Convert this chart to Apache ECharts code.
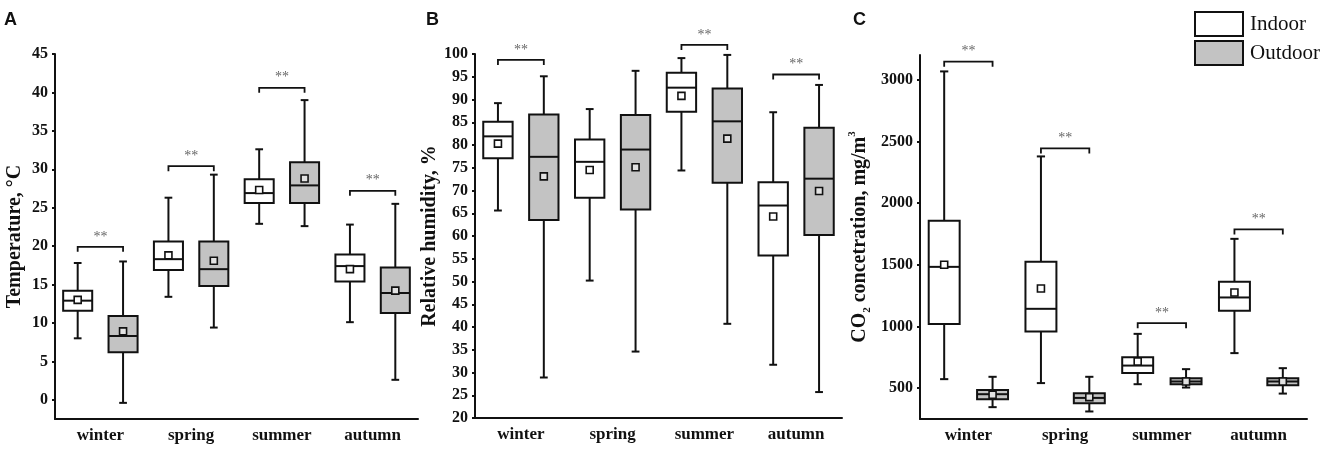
<!DOCTYPE html>
<html>
<head>
<meta charset="utf-8">
<script src="https://cdn.jsdelivr.net/npm/echarts@6/dist/echarts.min.js"></script>
<style>
html, body { margin: 0; padding: 0; background: #fff; }
#chart { width: 1325px; height: 454px; }
</style>
</head>
<body>
<div id="chart"></div>
<script>
// seasons on the x axis
var seasons = ['winter', 'spring', 'summer', 'autumn'];

// each row: [min, q1, median, q3, max, mean]
var tempIndoor = [[8.0, 11.6, 12.9, 14.2, 17.8, 13.0], [13.4, 16.9, 18.3, 20.6, 26.3, 18.8], [22.9, 25.6, 26.9, 28.7, 32.6, 27.3], [10.1, 15.4, 17.4, 18.9, 22.8, 17.0]];
var tempOutdoor = [[-0.4, 6.2, 8.3, 10.9, 18.0, 8.9], [9.4, 14.8, 17.0, 20.6, 29.3, 18.1], [22.6, 25.6, 27.9, 30.9, 39.0, 28.8], [2.6, 11.3, 13.9, 17.2, 25.5, 14.2]];
var tempSig = [19.9, 30.4, 40.6, 27.2];

var humIndoor = [[65.6, 77.1, 81.9, 85.1, 89.2, 80.3], [50.2, 68.4, 76.3, 81.2, 87.9, 74.5], [74.4, 87.3, 92.6, 95.9, 99.1, 90.8], [31.7, 55.7, 66.7, 71.8, 87.2, 64.3]];
var humOutdoor = [[28.9, 63.5, 77.4, 86.7, 95.1, 73.1], [34.6, 65.8, 79.0, 86.6, 96.3, 75.1], [40.7, 71.7, 85.2, 92.4, 99.8, 81.4], [25.7, 60.2, 72.6, 83.8, 93.2, 69.9]];
var humSig = [98.7, null, 102.0, 95.5];

var co2Indoor = [[573, 1019, 1483, 1857, 3067, 1500], [541, 959, 1143, 1524, 2378, 1308], [532, 622, 683, 751, 940, 716], [784, 1127, 1235, 1362, 1710, 1275]];
var co2Outdoor = [[346, 411, 451, 486, 592, 446], [311, 378, 421, 459, 592, 427], [505, 532, 554, 581, 654, 554], [456, 524, 554, 581, 662, 554]];
var co2Sig = [3146, 2443, 1027, 1786];

var tempTicks = [0, 5, 10, 15, 20, 25, 30, 35, 40, 45];
var co2Ticks = [500, 1000, 1500, 2000, 2500, 3000];

var serif = 'Liberation Serif';
var ink = '#111';
var grey = '#c3c3c3';

function boxSeries(name, idx, rows, side, fill, meanFill) {
	return {
		type: 'custom',
		name: name,
		xAxisIndex: idx,
		yAxisIndex: idx,
		data: rows.map(function (r, i) { return [i].concat(r); }),
		encode: { x: 0, y: [1, 2, 3, 4, 5, 6] },
		renderItem: function (params, api) {
			var i = api.value(0);
			var band = api.size([1, 0])[0];
			var cx = api.coord([i, api.value(3)])[0] + side * 0.25 * band;
			var y = function (d) { return api.coord([i, api.value(d)])[1]; };
			var bw = 0.32 * band, cap = 0.085 * band;
			var ls = { stroke: ink, lineWidth: 2, fill: null };
			var yMin = y(1), yQ1 = y(2), yMed = y(3), yQ3 = y(4), yMax = y(5), yMean = y(6);
			return {
				type: 'group',
				children: [
					{ type: 'line', shape: { x1: cx, y1: yMax, x2: cx, y2: yQ3 }, style: ls },
					{ type: 'line', shape: { x1: cx, y1: yQ1, x2: cx, y2: yMin }, style: ls },
					{ type: 'line', shape: { x1: cx - cap / 2, y1: yMax, x2: cx + cap / 2, y2: yMax }, style: ls },
					{ type: 'line', shape: { x1: cx - cap / 2, y1: yMin, x2: cx + cap / 2, y2: yMin }, style: ls },
					{ type: 'rect', shape: { x: cx - bw / 2, y: yQ3, width: bw, height: yQ1 - yQ3 }, style: { fill: fill, stroke: ink, lineWidth: 2 } },
					{ type: 'line', shape: { x1: cx - bw / 2, y1: yMed, x2: cx + bw / 2, y2: yMed }, style: ls },
					{ type: 'rect', shape: { x: cx - 3.5, y: yMean - 3.5, width: 7, height: 7 }, style: { fill: meanFill, stroke: ink, lineWidth: 1.6 } }
				]
			};
		}
	};
}

// significance bracket with ** above it
function sigSeries(idx, vals) {
	var data = [];
	vals.forEach(function (v, i) { if (v != null) data.push([i, v]); });
	return {
		type: 'custom',
		name: 'sig' + idx,
		xAxisIndex: idx,
		yAxisIndex: idx,
		data: data,
		encode: { x: 0, y: 1 },
		renderItem: function (params, api) {
			var band = api.size([1, 0])[0];
			var pt = api.coord([api.value(0), api.value(1)]);
			var l = pt[0] - 0.25 * band, r = pt[0] + 0.25 * band, y = pt[1];
			return {
				type: 'group',
				children: [
					{ type: 'polyline', shape: { points: [[l, y + 5], [l, y], [r, y], [r, y + 5]] }, style: { stroke: ink, lineWidth: 1.8, fill: null } },
					{ type: 'text', x: pt[0], y: y - 3, style: { text: '**', font: '14px ' + serif, fill: '#666', align: 'center', verticalAlign: 'bottom' } }
				]
			};
		}
	};
}

function xAxis(idx) {
	return {
		type: 'category', gridIndex: idx, data: seasons,
		axisLine: { onZero: false, lineStyle: { color: ink, width: 2 } },
		axisTick: { alignWithLabel: true, inside: true, length: 4, lineStyle: { color: ink, width: 2 } },
		axisLabel: { color: ink, fontFamily: serif, fontWeight: 'bold', fontSize: 17, margin: 8 }
	};
}

function yAxis(idx, opt) {
	var ax = {
		type: 'value', gridIndex: idx, min: opt.min, max: opt.max,
		name: opt.name, nameLocation: 'middle', nameGap: opt.gap,
		nameTextStyle: { color: ink, fontFamily: serif, fontWeight: 'bold', fontSize: 20, rich: opt.rich },
		axisLine: { show: true, onZero: false, lineStyle: { color: ink, width: 2 } },
		axisTick: { show: true, length: 3, lineStyle: { color: ink, width: 2 } },
		axisLabel: { color: ink, fontFamily: serif, fontWeight: 'bold', fontSize: 16, margin: 7, formatter: function (v) { return String(v); } },
		splitLine: { show: false }
	};
	if (opt.interval) ax.interval = opt.interval;
	if (opt.ticks) {
		ax.axisTick.customValues = opt.ticks;
		ax.axisLabel.customValues = opt.ticks;
	}
	return ax;
}

var chart = echarts.init(document.getElementById('chart'));
chart.setOption({
	backgroundColor: '#fff',
	animation: false,
	grid: [
		{ left: 55, top: 54, width: 363, height: 365 },
		{ left: 475, top: 54, width: 367, height: 364 },
		{ left: 920, top: 55, width: 387, height: 364 }
	],
	xAxis: [xAxis(0), xAxis(1), xAxis(2)],
	yAxis: [
		yAxis(0, { min: -2.5, max: 45, ticks: tempTicks, name: 'Temperature, °C', gap: 30 }),
		yAxis(1, { min: 20, max: 100, interval: 5, name: 'Relative humidity, %', gap: 34 }),
		yAxis(2, {
			min: 250, max: 3200, ticks: co2Ticks, gap: 47,
			name: 'CO{sub|2} concetration, mg/m{sup|3}',
			rich: {
				sub: { fontSize: 11, fontWeight: 'bold', fontFamily: serif, color: ink, verticalAlign: 'bottom', lineHeight: 26 },
				sup: { fontSize: 11, fontWeight: 'bold', fontFamily: serif, color: ink, verticalAlign: 'top', lineHeight: 26 }
			}
		})
	],
	legend: {
		left: 1189, top: 6, orient: 'vertical', itemWidth: 48, itemHeight: 24, itemGap: 3,
		selectedMode: false,
		textStyle: { fontFamily: serif, fontSize: 21, color: ink, padding: [0, 0, 0, 2] },
		data: [
			{ name: 'Indoor', icon: 'rect', itemStyle: { color: '#fff', borderColor: ink, borderWidth: 2 } },
			{ name: 'Outdoor', icon: 'rect', itemStyle: { color: grey, borderColor: ink, borderWidth: 2 } }
		]
	},
	graphic: [
		{ type: 'text', left: 4, top: 11, style: { text: 'A', font: 'bold 18px Liberation Sans', fill: ink } },
		{ type: 'text', left: 426, top: 11, style: { text: 'B', font: 'bold 18px Liberation Sans', fill: ink } },
		{ type: 'text', left: 853, top: 11, style: { text: 'C', font: 'bold 18px Liberation Sans', fill: ink } }
	],
	series: [
		boxSeries('Indoor', 0, tempIndoor, -1, '#fff', '#fff'),
		boxSeries('Outdoor', 0, tempOutdoor, 1, grey, '#e2e2e2'),
		sigSeries(0, tempSig),
		boxSeries('Indoor', 1, humIndoor, -1, '#fff', '#fff'),
		boxSeries('Outdoor', 1, humOutdoor, 1, grey, '#e2e2e2'),
		sigSeries(1, humSig),
		boxSeries('Indoor', 2, co2Indoor, -1, '#fff', '#fff'),
		boxSeries('Outdoor', 2, co2Outdoor, 1, grey, '#e2e2e2'),
		sigSeries(2, co2Sig)
	]
});
window.onresize = function () {
	chart.resize();
};
</script>
</body>
</html>
